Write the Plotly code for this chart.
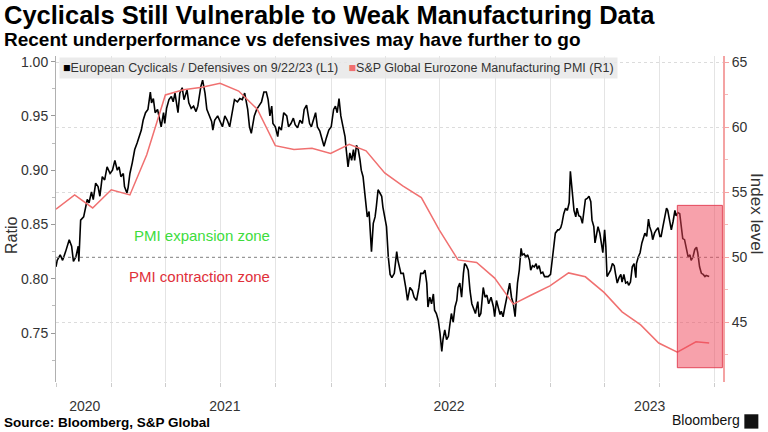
import pandas as pd
import plotly.graph_objects as go

# ---------------- DATA ----------------
ratio_start = "2020-09-30"
ratio_days = [0,2,7,11,16,22,26,29,33,37,38,41,46,49,52,55,59,62,66,70,73,77,81,85,90,94,98,102,105,108,112,114,118,120,123,127,131,135,139,142,145,149,153,157,159,162,165,169,172,175,179,181,184,188,192,195,198,201,203,206,210,213,218,221,225,229,233,236,241,244,248,251,255,259,261,264,269,273,277,
              281,285,289,293,297,302,306,310,314,319,322,325,330,334,337,342,346,350,353,356,359,361,365,369,371,375,379,384,387,391,395,398,402,406,410,413,417,420,422,425,428,432,435,439,443,446,450,454,458,462,465,468,471,474,478,481,483,486,489,492,495,497,500,503,506,508,511,514,516,518,521,523,525,528,531,533,536,539,542,544,547,550,553,556,559,563,
              567,569,574,578,582,585,589,593,596,600,604,607,611,614,617,619,622,625,628,630,633,636,639,642,644,647,650,653,655,658,661,664,667,669,672,675,678,680,683,686,689,692,694,698,702,704,707,711,714,717,720,724,728,730,733,736,739,741,744,747,750,753,755,758,761,764,766,768,771,774,776,779,782,785,788,790,793,796,799,801,804,807,810,813,815,819,823,826,829,831,835,
              837,840,842,845,848,851,854,856,858,860,862,865,867,870,873,876,879,881,884,887,890,892,895,897,899,902,905,907,910,913,915,917,920,923,926,929,931,934,937,940,942,945,948,951,953,956,959,962,965,966,969,972,975,977,980,983,986,988,991,993,996,999,1002,1005,1007,1010,1013,1016,1018,1021,1024,1027,1030,1032,1035,1038,1041,1043,1046,1049,1052,1055,1057,1060,1063,1066,1068,1071,1074,1077,1080,1082,1087]
ratio_values = [0.811,0.817,0.822,0.817,0.825,0.836,0.830,0.816,0.820,0.830,0.816,0.854,0.857,0.866,0.873,0.870,0.880,0.873,0.888,0.885,0.876,0.894,0.891,0.903,0.897,0.900,0.909,0.900,0.903,0.894,0.897,0.885,0.879,0.884,0.897,0.907,0.919,0.925,0.931,0.937,0.946,0.953,0.956,0.972,0.962,0.966,0.953,0.956,0.948,0.940,0.953,0.943,0.957,0.965,0.968,0.963,0.971,0.962,0.953,0.971,0.976,0.965,0.974,0.962,0.957,0.959,0.954,0.959,0.977,0.983,0.971,0.956,0.950,0.945,0.937,0.946,0.950,0.945,0.940,
                0.950,0.946,0.940,0.953,0.965,0.963,0.966,0.965,0.971,0.956,0.940,0.934,0.950,0.956,0.959,0.963,0.972,0.972,0.965,0.950,0.959,0.943,0.940,0.931,0.940,0.937,0.953,0.950,0.940,0.943,0.948,0.942,0.939,0.946,0.943,0.956,0.960,0.950,0.943,0.940,0.946,0.953,0.940,0.936,0.928,0.922,0.930,0.937,0.940,0.956,0.959,0.953,0.966,0.950,0.939,0.931,0.919,0.903,0.916,0.909,0.919,0.909,0.923,0.919,0.909,0.900,0.894,0.876,0.870,0.857,0.862,0.842,0.825,0.851,0.857,0.866,0.882,0.879,0.876,0.866,0.857,0.848,0.820,0.804,0.801,0.805,
                0.825,0.817,0.805,0.805,0.792,0.780,0.792,0.789,0.783,0.780,0.792,0.805,0.805,0.808,0.796,0.774,0.783,0.777,0.786,0.771,0.768,0.762,0.750,0.733,0.744,0.753,0.744,0.747,0.756,0.768,0.760,0.774,0.780,0.792,0.796,0.783,0.805,0.814,0.812,0.808,0.789,0.777,0.774,0.768,0.779,0.765,0.768,0.792,0.783,0.785,0.777,0.783,0.774,0.765,0.780,0.774,0.767,0.770,0.765,0.774,0.783,0.789,0.796,0.783,0.777,0.765,0.786,0.796,0.808,0.828,0.822,0.823,0.820,0.822,0.817,0.808,0.812,0.811,0.814,0.809,0.812,0.805,0.806,0.802,0.802,0.802,0.804,0.820,0.836,0.842,0.845,
                0.845,0.847,0.851,0.860,0.865,0.863,0.870,0.899,0.888,0.873,0.863,0.857,0.865,0.858,0.857,0.851,0.863,0.873,0.874,0.876,0.871,0.854,0.848,0.833,0.839,0.848,0.842,0.833,0.824,0.845,0.830,0.802,0.805,0.808,0.814,0.812,0.805,0.796,0.801,0.804,0.797,0.804,0.796,0.797,0.794,0.797,0.811,0.814,0.801,0.814,0.820,0.824,0.833,0.836,0.842,0.839,0.855,0.848,0.843,0.836,0.842,0.845,0.847,0.839,0.839,0.848,0.857,0.865,0.863,0.854,0.845,0.853,0.863,0.858,0.861,0.860,0.842,0.837,0.836,0.827,0.820,0.822,0.817,0.820,0.827,0.829,0.824,0.811,0.805,0.804,0.802,0.803,0.802]

pmi_dates = ["2020-09-30","2020-10-31","2020-11-30","2020-12-31",
             "2021-01-31","2021-02-28","2021-03-31","2021-04-30","2021-05-31","2021-06-30",
             "2021-07-31","2021-08-31","2021-09-30","2021-10-31","2021-11-30","2021-12-31",
             "2022-01-31","2022-02-28","2022-03-31","2022-04-30","2022-05-31","2022-06-30",
             "2022-07-31","2022-08-31","2022-09-30","2022-10-31","2022-11-30","2022-12-31",
             "2023-01-31","2023-02-28","2023-03-31","2023-04-30","2023-05-31","2023-06-30",
             "2023-07-31","2023-08-31","2023-09-22"]
pmi_values = [53.7,54.8,53.8,55.2,
              54.8,57.9,62.5,62.9,63.1,63.4,
              62.8,61.4,58.6,58.3,58.4,58.0,
              58.7,58.2,56.5,55.5,54.6,52.1,
              49.8,49.6,48.4,46.4,47.1,47.8,
              48.8,48.5,47.3,45.8,44.8,43.4,
              42.7,43.5,43.4]

year_tick_dates = ["2020-11-17", "2021-07-08", "2022-07-16", "2023-06-15"]
year_tick_labels = ["2020", "2021", "2022", "2023"]

x_range = ["2020-09-30", "2023-10-15"]
left_range = [0.7049, 1.0052]
right_range = [40.4, 65.5]
highlight_x = ["2023-07-31", "2023-10-14"]
highlight_y = [41.5, 54.0]
pmi_threshold = 50

ratio_dates = pd.Timestamp(ratio_start) + pd.to_timedelta(ratio_days, unit="D")

FONT = "Liberation Sans"
TXT = "#333333"
PMI_COLOR = "#f07070"

fig = go.Figure()
fig.add_trace(go.Scatter(x=pmi_dates, y=pmi_values, yaxis="y2", mode="lines",
                         line=dict(color=PMI_COLOR, width=1.5), showlegend=False, hoverinfo="skip"))
fig.add_trace(go.Scatter(x=ratio_dates, y=ratio_values, yaxis="y", mode="lines",
                         line=dict(color="#000000", width=1.6), showlegend=False, hoverinfo="skip"))

fig.update_layout(
    width=768, height=432,
    margin=dict(l=56, r=45, t=56, b=50),
    paper_bgcolor="white", plot_bgcolor="white",
    font=dict(family=FONT, size=14, color=TXT),
    xaxis=dict(
        range=x_range, type="date",
        tickmode="array", tickvals=year_tick_dates, ticktext=year_tick_labels,
        ticks="", showgrid=False, showline=False, zeroline=False,
        ticklabelstandoff=14,
        tickfont=dict(size=14, color=TXT),
        minor=dict(tickmode="linear", tick0="2020-10-01", dtick="M3",
                   showgrid=True, gridcolor="#e4e4e4", gridwidth=1,
                   ticks="outside", ticklen=4, tickcolor="#cccccc"),
    ),
    yaxis=dict(
        range=left_range, tick0=0.75, dtick=0.05, tickformat=".2f",
        showgrid=False, zeroline=False,
        showline=True, linecolor="#b0b0b0", linewidth=1,
        ticks="outside", ticklen=4, tickcolor="#999999",
        tickfont=dict(size=14, color=TXT),
        minor=dict(tick0=0.725, dtick=0.05, ticks="outside", ticklen=3, tickcolor="#bbbbbb"),
    ),
    yaxis2=dict(
        range=right_range, overlaying="y", side="right",
        tick0=45, dtick=5,
        showgrid=True, gridcolor="#dcdcdc", griddash="dot", gridwidth=1,
        zeroline=False,
        showline=True, linecolor="#f4a3a3", linewidth=2,
        ticks="outside", ticklen=4, tickcolor="#f4a3a3",
        tickfont=dict(size=14, color=TXT),
        minor=dict(tick0=42.5, dtick=5, ticks="outside", ticklen=3, tickcolor="#f4b8b8"),
    ),
    showlegend=False,
)

# threshold dotted line
fig.add_shape(type="line", xref="paper", x0=0, x1=1, yref="y2", y0=pmi_threshold, y1=pmi_threshold,
              line=dict(color="#888888", width=1, dash="dot"), layer="above")
# highlight box
fig.add_shape(type="rect", xref="x", yref="y2",
              x0=highlight_x[0], x1=highlight_x[1], y0=highlight_y[0], y1=highlight_y[1],
              fillcolor="rgba(239,67,87,0.5)", line=dict(color="rgba(225,60,80,0.9)", width=1),
              layer="above")

ann = []
ann.append(dict(xref="paper", yref="paper", x=-0.081, y=1.125, xanchor="left", yanchor="middle",
                text="<b>Cyclicals Still Vulnerable to Weak Manufacturing Data</b>",
                font=dict(family=FONT, size=25.5, color="#000000"), showarrow=False))
ann.append(dict(xref="paper", yref="paper", x=-0.081, y=1.052, xanchor="left", yanchor="middle",
                text="<b>Recent underperformance vs defensives may have further to go</b>",
                font=dict(family=FONT, size=19, color="#000000"), showarrow=False))
ann.append(dict(xref="paper", yref="paper", x=-0.081, y=-0.123, xanchor="left", yanchor="middle",
                text="<b>Source: Bloomberg, S&P Global</b>",
                font=dict(family=FONT, size=13.5, color="#000000"), showarrow=False))
ann.append(dict(xref="paper", yref="paper", x=1.028, y=-0.118, xanchor="right", yanchor="middle",
                text="Bloomberg", font=dict(family=FONT, size=14, color="#111111"), showarrow=False))
ann.append(dict(xref="paper", yref="paper", x=-0.066, y=0.451, xanchor="center", yanchor="middle",
                text="Ratio", textangle=-90, font=dict(family=FONT, size=16, color=TXT), showarrow=False))
ann.append(dict(xref="paper", yref="paper", x=1.051, y=0.518, xanchor="center", yanchor="middle",
                text="Index level", textangle=90, font=dict(family=FONT, size=17, color=TXT), showarrow=False))
ann.append(dict(xref="paper", yref="paper", x=0.0045, y=0.997, xanchor="left", yanchor="top",
                text="<span style='color:#000000'>■</span>European Cyclicals / Defensives on 9/22/23 (L1)"
                     "   <span style='color:#f07070'>■</span>S&P Global Eurozone Manufacturing PMI (R1)",
                font=dict(family=FONT, size=12.5, color=TXT), bgcolor="rgba(232,232,232,0.85)",
                borderpad=3, showarrow=False))
ann.append(dict(xref="x", yref="y2", x="2021-09-25", y=51.7, xanchor="right", yanchor="middle",
                text="PMI expansion zone", font=dict(family=FONT, size=15, color="#3ddc3d"), showarrow=False))
ann.append(dict(xref="x", yref="y2", x="2021-09-25", y=48.5, xanchor="right", yanchor="middle",
                text="PMI contraction zone", font=dict(family=FONT, size=15, color="#e0303a"), showarrow=False))
fig.update_layout(annotations=ann)

# small Bloomberg logo mark
fig.add_shape(type="rect", xref="paper", yref="paper", x0=1.032, x1=1.053, y0=-0.143, y1=-0.099,
              fillcolor="#111111", line=dict(width=0), layer="above")

fig.write_html("out.html", config={"displayModeBar": False},
               post_script="document.body.style.margin='0';document.body.style.padding='0';")
